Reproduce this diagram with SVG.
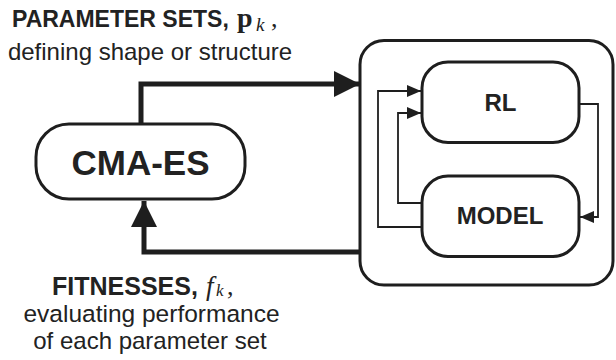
<svg xmlns="http://www.w3.org/2000/svg" width="616" height="360" viewBox="0 0 616 360">
  <defs>
    <marker id="headBig" viewBox="0 0 26 26" refX="26" refY="13" markerWidth="26" markerHeight="26" markerUnits="userSpaceOnUse" orient="auto">
      <path d="M0,0 L26,13 L0,26 Z" fill="#1e1e1e"/>
    </marker>
    <marker id="headSmall" viewBox="0 0 14 12" refX="14" refY="6" markerWidth="14" markerHeight="12" markerUnits="userSpaceOnUse" orient="auto">
      <path d="M0,0 L14,6 L0,12 Z" fill="#1e1e1e"/>
    </marker>
  </defs>
  <style>
    .box { fill: #ffffff; stroke: #1e1e1e; stroke-width: 3; }
    .thick { fill: none; stroke: #1e1e1e; stroke-width: 5; }
    .thin { fill: none; stroke: #1e1e1e; stroke-width: 1.8; }
    .label { font-family: "Liberation Sans", Arial, Helvetica, sans-serif; fill: #222222; }
    .bold { font-weight: bold; }
    .math { font-family: "Liberation Serif", "Times New Roman", serif; fill: #222222; }
  </style>

  <rect width="616" height="360" fill="#ffffff"/>

  <!-- environment container -->
  <g id="container">
    <rect class="box" x="360" y="40.5" width="253" height="244.5" rx="24"/>
  </g>

  <g id="cma-es">
    <rect class="box" x="36" y="124" width="209" height="75" rx="33"/>
    <text class="label bold" x="140.5" y="175" font-size="35" text-anchor="middle">CMA-ES</text>
  </g>

  <g id="rl">
    <rect class="box" x="422" y="62" width="157" height="80.5" rx="26"/>
    <text class="label bold" x="500.5" y="111" font-size="24" text-anchor="middle">RL</text>
  </g>

  <g id="model">
    <rect class="box" x="422" y="176" width="157" height="80.5" rx="26"/>
    <text class="label bold" x="500" y="224" font-size="24" text-anchor="middle">MODEL</text>
  </g>

  <g id="connectors">
    <!-- parameter sets out to the environment -->
    <path class="thick" d="M141,124 V84 H360" marker-end="url(#headBig)"/>
    <!-- fitnesses back to the optimiser -->
    <path class="thick" d="M360,252 H144 V201" marker-end="url(#headBig)"/>
    <!-- inner RL / model loops -->
    <path class="thin" d="M422,227 H378 V91 H421" marker-end="url(#headSmall)"/>
    <path class="thin" d="M422,203 H398 V113 H421" marker-end="url(#headSmall)"/>
    <path class="thin" d="M579,104 H598 V217 H580" marker-end="url(#headSmall)"/>
  </g>

  <g id="labels">
    <text class="label bold" x="12" y="27" font-size="23">PARAMETER SETS,</text>
    <text class="math" x="237" y="27" font-size="28" font-weight="bold">p</text>
    <text class="math" x="256" y="31" font-size="19" font-style="italic">k</text>
    <text class="math" x="271" y="27" font-size="26">,</text>
    <text class="label" x="150" y="60" font-size="24" text-anchor="middle">defining shape or structure</text>

    <text class="label bold" x="52" y="295" font-size="25">FITNESSES,</text>
    <text class="math" x="206" y="295" font-size="27" font-style="italic">f</text>
    <text class="math" x="216" y="296" font-size="17" font-style="italic">k</text>
    <text class="math" x="227" y="295" font-size="26">,</text>
    <text class="label" x="151.5" y="322" font-size="24.5" text-anchor="middle">evaluating performance</text>
    <text class="label" x="150" y="349" font-size="24" text-anchor="middle">of each parameter set</text>
  </g>
</svg>
